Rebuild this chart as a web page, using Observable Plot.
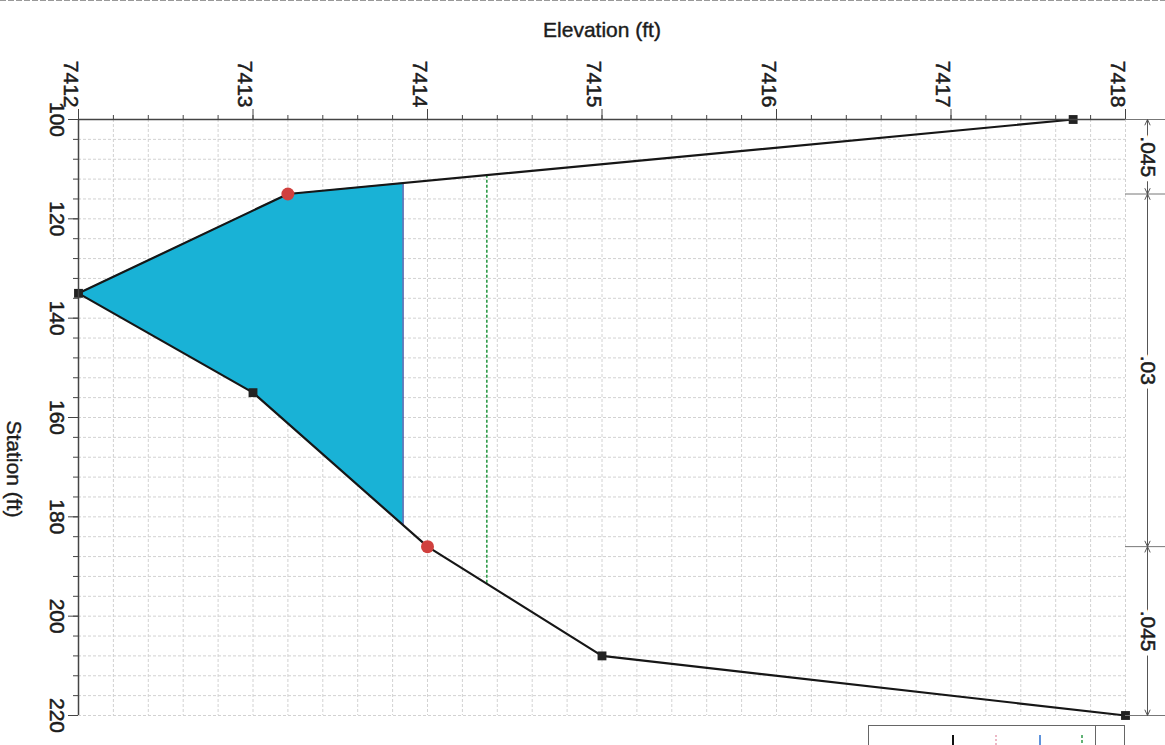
<!DOCTYPE html>
<html><head><meta charset="utf-8">
<script src="https://cdn.jsdelivr.net/npm/d3@7"></script>
<script src="https://cdn.jsdelivr.net/npm/@observablehq/plot@0.6"></script>
<style>
html,body{margin:0;padding:0;background:#fff;}
#wrap{position:relative;width:1165px;height:745px;overflow:hidden;background:#fff;}
#wrap svg{display:block;}
#overlay{position:absolute;left:0;top:0;pointer-events:none;}
</style></head>
<body><div id="wrap"></div>
<script>
// ---- data ----
const stations   = [100, 115, 135, 155, 186, 208, 220];          // ft
const elevations = [7417.7, 7413.2, 7412.0, 7413.0, 7414.0, 7415.0, 7418.0]; // ft
const bankStations = [115, 186];
const waterSurface = 7413.86;
const energyGrade  = 7414.34;
const nBounds = [100, 115, 186, 220];
const nValues = [".045", ".03", ".045"];
const elevTicks = [7412, 7413, 7414, 7415, 7416, 7417, 7418];
const stationTicks = [100, 120, 140, 160, 180, 200, 220];
const xTitle = "Elevation (ft)";
const yTitle = "Station (ft)";

// ---- derived tables ----
const ground = stations.map((s, i) => ({s, e: elevations[i], bank: bankStations.includes(s)}));
function crossings(level) {
  const out = [];
  for (let i = 0; i < ground.length - 1; i++) {
    const a = ground[i], b = ground[i + 1];
    if ((a.e - level) * (b.e - level) < 0) out.push(a.s + (level - a.e) / (b.e - a.e) * (b.s - a.s));
  }
  return [out[0], out[out.length - 1]];
}
const [w0, w1] = crossings(waterSurface);
const [g0, g1] = crossings(energyGrade);
const wet = [{s: w0, e: waterSurface}, ...ground.filter(d => d.s > w0 && d.s < w1), {s: w1, e: waterSurface}];

const elevMin = elevTicks[0], elevMax = elevTicks[elevTicks.length - 1];
const staMin = stationTicks[0], staMax = stationTicks[stationTicks.length - 1];
const elevMinor = d3.range(0, (elevMax - elevMin) * 5 + 1).map(i => +(elevMin + i * 0.2).toFixed(1));
const staMinor = d3.range(staMin, staMax + 1, 4);

const segs = nValues.map((n, i) => ({n, a: nBounds[i], b: nBounds[i + 1], mid: (nBounds[i] + nBounds[i + 1]) / 2}));
const arrows = segs.flatMap(d => [{from: d.mid, to: d.a}, {from: d.mid, to: d.b}]);

const W = 1165, H = 745, mL = 78, mR = 40, mT = 119, mB = 30;
const frameW = W - mL - mR;
const font = "'Liberation Sans', Arial, Helvetica, sans-serif";
const ink = "#1c1c1c";
const grid = "#d2d2d2";

const chart = Plot.plot({
  width: W, height: H,
  marginLeft: mL, marginRight: mR, marginTop: mT, marginBottom: mB,
  style: {fontFamily: font, fontSize: "21px", color: ink, background: "#fff", overflow: "visible"},
  x: {domain: [elevMin, elevMax]},
  y: {domain: [staMin, staMax], reverse: true},
  marks: [
    // grid
    Plot.ruleX(elevMinor, {stroke: grid, strokeWidth: 1, strokeDasharray: "3,2"}),
    Plot.ruleY(staMinor, {stroke: grid, strokeWidth: 1, strokeDasharray: "3,2"}),
    // water
    Plot.areaX(wet, {y: "s", x1: "e", x2: () => waterSurface, fill: "#19b2d6", curve: "linear"}),
    Plot.ruleX([waterSurface], {y1: w0, y2: w1, stroke: "#2a3f9c", strokeWidth: 1.2}),
    // energy grade
    Plot.ruleX([energyGrade], {y1: g0, y2: g1, stroke: "#2e9a48", strokeWidth: 1.6, strokeDasharray: "3,2"}),
    // ground
    Plot.line(ground, {x: "e", y: "s", stroke: "#161616", strokeWidth: 2.2}),
    Plot.dot(ground.filter(d => !d.bank), {x: "e", y: "s", symbol: "square", r: 5, fill: "#222", stroke: "none"}),
    Plot.dot(ground.filter(d => d.bank), {x: "e", y: "s", r: 6.5, fill: "#d0403e", stroke: "none"}),
    // axis lines
    Plot.ruleY([staMin], {stroke: "#444", strokeWidth: 1.5}),
    Plot.ruleX([elevMin], {stroke: "#444", strokeWidth: 1.5}),
    // ticks
    Plot.axisX({anchor: "top", ticks: elevMinor, tickSize: 5, fill: "none", stroke: "#444", label: null}),
    Plot.axisX({anchor: "top", ticks: elevTicks, tickSize: 11, fill: "none", stroke: "#444", label: null}),
    Plot.axisY({anchor: "left", ticks: staMinor, tickSize: 5, fill: "none", stroke: "#444", label: null}),
    Plot.axisY({anchor: "left", ticks: stationTicks, tickSize: 10, fill: "none", stroke: "#444", label: null}),
    // tick labels
    Plot.text(elevTicks, {x: d => d, text: d => String(d), frameAnchor: "top", dy: -12, rotate: 90, textAnchor: "end", fontSize: 21, fill: ink, stroke: ink, strokeWidth: 0.5}),
    Plot.text(stationTicks, {y: d => d, text: d => String(d), frameAnchor: "left", dx: -22, rotate: 90, textAnchor: "middle", fontSize: 21, fill: ink, stroke: ink, strokeWidth: 0.5}),
    // titles
    Plot.text([xTitle], {text: d => d, frameAnchor: "top", dy: -97, fontSize: 21, fill: ink, stroke: ink, strokeWidth: 0.4}),
    Plot.text([yTitle], {text: d => d, frameAnchor: "left", dx: -65, dy: 3, rotate: 90, fontSize: 21, fill: ink, stroke: ink, strokeWidth: 0.4}),
    // Manning's n annotation
    Plot.ruleY(nBounds, {insetLeft: frameW, insetRight: -40, stroke: "#777", strokeWidth: 1}),
    Plot.arrow(arrows, {x: () => elevMax, y1: "from", y2: "to", dx: 22, stroke: "#555", strokeWidth: 1, headLength: 9, headAngle: 50}),
    Plot.text(segs, {x: () => elevMax, y: "mid", text: "n", dx: 22, rotate: 90, fontSize: 21, fill: "none", stroke: "white", strokeWidth: 10}),
    Plot.text(segs, {x: () => elevMax, y: "mid", text: "n", dx: 22, rotate: 90, fontSize: 21, fill: ink, stroke: ink, strokeWidth: 0.5})
  ]
});
document.getElementById("wrap").appendChild(chart);

// legend box (partially cut off at the bottom in the reference) and scan edge line
const ov = d3.select("#wrap").append("svg").attr("id", "overlay").attr("width", W).attr("height", H);
ov.append("line").attr("x1", 0).attr("x2", W).attr("y1", 0.5).attr("y2", 0.5).attr("stroke", "#999").attr("stroke-dasharray", "6,2");
ov.append("rect").attr("x", 868.5).attr("y", 725.5).attr("width", 256).attr("height", 40).attr("fill", "#fff").attr("stroke", "#666");
ov.append("line").attr("x1", 1095.5).attr("x2", 1095.5).attr("y1", 725).attr("y2", H).attr("stroke", "#666");
const legendStubs = [
  {x: 953, c: "#111", dash: null, w: 2},
  {x: 996, c: "#e08aa0", dash: "2,2", w: 1.2},
  {x: 1040, c: "#2a6fd0", dash: null, w: 1.5},
  {x: 1082, c: "#2e9a48", dash: "3,2", w: 1.5}
];
ov.selectAll("line.stub").data(legendStubs).join("line").attr("class", "stub")
  .attr("x1", d => d.x).attr("x2", d => d.x).attr("y1", 735).attr("y2", H)
  .attr("stroke", d => d.c).attr("stroke-width", d => d.w).attr("stroke-dasharray", d => d.dash);
</script>
</body></html>
